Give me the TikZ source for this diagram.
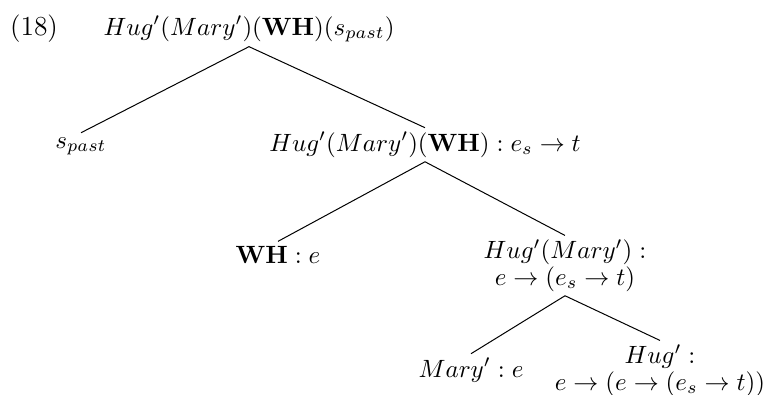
\documentclass[tikz,border=0pt]{standalone}
\usepackage{amsmath}
\usepackage{amssymb}
\usepackage{tikz}
\tikzset{
	lf/.style={anchor=base,inner sep=1.6pt,align=center}
}

\begin{document}
\begin{tikzpicture}[x=0.4pt,y=-0.4pt]%[scale=1.5]
						\useasboundingbox (0,0) rectangle (766,394);
						\node [lf,font=\fontsize{11}{13}\selectfont] (ex) at (34,35) {(18)};
						\node [lf] (root) at (249,35) {$Hug'(Mary')(\mathbf{WH})(s_{past})$};
						\node [lf] (spast) at (81,148) {$s_{past}$};
						\node [lf] (hmw) at (425,151) {$Hug'(Mary')(\mathbf{WH}) : e_s \to t$};
						\node [lf] (wh) at (278,263) {$\mathbf{WH} : e$};
						\node [lf] (hm) at (565,285) {$Hug'(Mary') :$\\[-1.5pt]$e \to (e_s \to t)$};
						\node [lf] (mary) at (471,377) {$Mary' : e$};
						\node [lf] (hug) at (660,390) {$Hug' :$\\[-1.5pt]$e \to (e \to (e_s \to t))$};
						\draw (root.south) -- (spast.north);
						\draw (root.south) -- (hmw.north);
						\draw (hmw.south) -- (wh.north);
						\draw (hmw.south) -- (hm.north);
						\draw (hm.south) -- (mary.north);
						\draw (hm.south) -- (hug.north);
					\end{tikzpicture}
\end{document}
